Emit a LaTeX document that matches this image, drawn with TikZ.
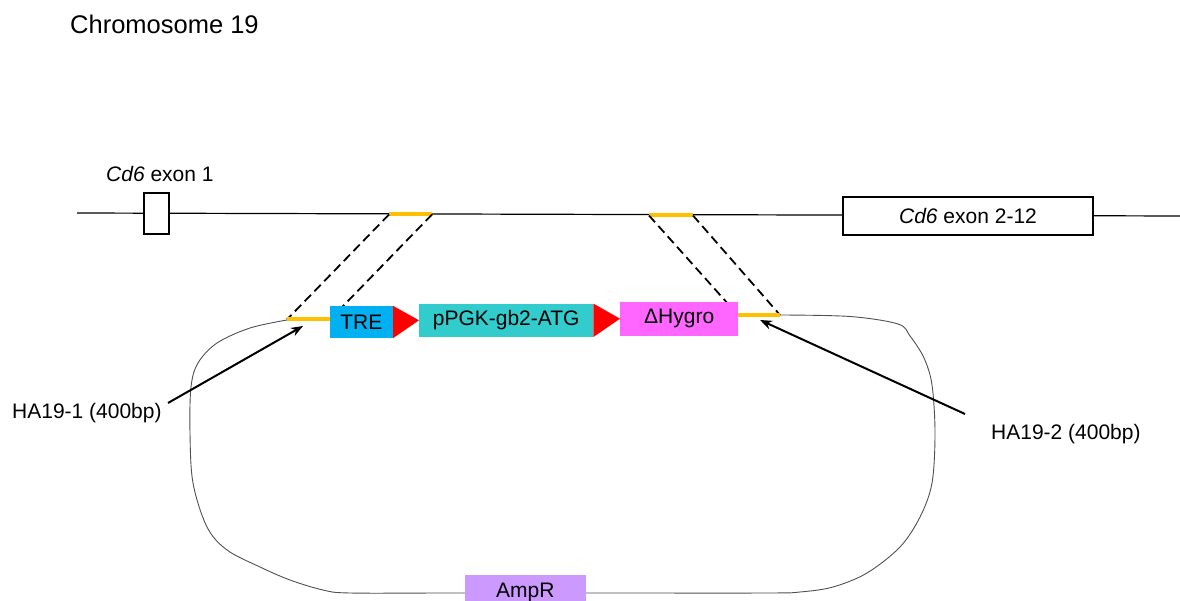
\documentclass[tikz,border=0pt]{standalone}
\usepackage{fontspec}
\setmainfont{Liberation Sans}
\usetikzlibrary{arrows.meta}
\definecolor{ha}{HTML}{FFC000}
\definecolor{trec}{HTML}{00B0F0}
\definecolor{pgkc}{HTML}{33CCCC}
\definecolor{hygc}{HTML}{FF66FF}
\definecolor{ampc}{HTML}{CC99FF}
\definecolor{plas}{HTML}{505050}
\begin{document}
\begin{tikzpicture}[x=1pt,y=-1pt,font=\fontsize{21}{25}\selectfont,
  gene/.style={inner sep=0pt,minimum height=#1},
  exon/.style={draw=black,fill=white,line width=1.2pt,inner sep=0pt},
  homarm/.style={draw=ha,line width=4pt},
  xover/.style={draw=black,line width=1.8pt,dash pattern=on 9pt off 5pt},
  pointer/.style={draw=black,line width=2pt,-{Stealth[length=12pt,width=9pt]}},
  lbl/.style={inner sep=0pt,anchor=west}]
\useasboundingbox (0,0) rectangle (1180,601);

% title
\node[lbl,font=\fontsize{25.5}{30}\selectfont] (title) at (70,24) {Chromosome 19};

% chromosome line
\coordinate (cl) at (77,213);
\coordinate (cr) at (1180,216);
\draw[line width=1.2pt] (cl) -- (cr);

% exons
\node[exon,minimum width=25pt,minimum height=41pt] (ex1) at (156.5,213.5) {};
\node[lbl] (ex1l) at (106,174) {\textit{Cd6} exon 1};
\node[exon,minimum width=250pt,minimum height=38pt] (ex2) at (968,216) {\textit{Cd6} exon 2-12};

% homology arms on chromosome
\coordinate (c1a) at (389,214.5);
\coordinate (c1b) at (432,214.5);
\coordinate (c2a) at (649,215.5);
\coordinate (c2b) at (693,215.5);
\draw[homarm] (c1a) -- (c1b);
\draw[homarm] (c2a) -- (c2b);

% homology arms on vector
\coordinate (v1a) at (287,319.5);
\coordinate (v1b) at (330,319.5);
\coordinate (v2a) at (738,315);
\coordinate (v2b) at (780,315);

% crossover dashed lines
\draw[xover] (c1a) -- (v1a);
\draw[xover] (c1b) -- (v1b);
\draw[xover] (c2a) -- (v2a);
\draw[xover] (c2b) -- (v2b);

% plasmid backbone
\draw[plas,line width=0.9pt] plot[smooth,tension=0.55] coordinates {
 (287,320) (250,328) (217,343) (198,363) (191,387) (190,433) (193,483)
 (207,527) (227,550) (260,567) (290,580) (323,590) (350,593) (450,593)
 (600,593) (767,593) (800,592) (833,587) (867,573) (900,547) (920,517)
 (932,483) (935,433) (932,385) (924,358) (910,336) (898,324) (850,316.5) (780,315)};

\draw[homarm] (v1a) -- (v1b);
\draw[homarm] (v2a) -- (v2b);

% cassette
\node[gene=32pt,fill=trec,minimum width=63pt] (tre) at (361.3,322) {TRE};
\node[gene=33pt,fill=pgkc,minimum width=174pt] (pgk) at (506.2,320.3) {pPGK-gb2-ATG};
\node[gene=34pt,fill=hygc,minimum width=118pt] (hyg) at (679.2,318.7) {ΔHygro};
\fill[red] (tre.north east) -- (pgk.west) -- (tre.south east) -- cycle;
\fill[red] (pgk.north east) -- (hyg.west) -- (pgk.south east) -- cycle;

% AmpR
\node[gene=34pt,fill=ampc,minimum width=121pt] (amp) at (525.3,592) {AmpR};

% labels and pointers
\node[lbl] (ha1) at (12,413) {HA19-1 (400bp)};
\node[lbl] (ha2) at (991,434) {HA19-2 (400bp)};
\coordinate (p1s) at (168,403);
\coordinate (p1e) at (303,326);
\coordinate (p2s) at (965,414);
\coordinate (p2e) at (760,320);
\draw[pointer] (p1s) -- (p1e);
\draw[pointer] (p2s) -- (p2e);
\end{tikzpicture}
\end{document}
